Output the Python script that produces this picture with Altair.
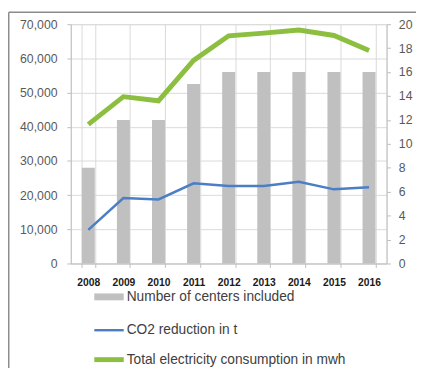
import altair as alt
import pandas as pd

years = ["2008", "2009", "2010", "2011", "2012", "2013", "2014", "2015", "2016"]
centers = [8, 12, 12, 15, 16, 16, 16, 16, 16]
co2 = [9850, 19150, 18750, 23450, 22650, 22650, 23900, 21700, 22300]
elec = [40700, 48800, 47600, 59400, 66600, 67400, 68300, 66700, 62300]
series_names = ["Number of centers included", "CO2 reduction in t",
                "Total electricity consumption in mwh"]
colors = ["#c0c0c0", "#4a7fc6", "#8cbf3f"]
left_ticks = [0, 10000, 20000, 30000, 40000, 50000, 60000, 70000]
right_ticks = [0, 2, 4, 6, 8, 10, 12, 14, 16, 18, 20]

bar_df = pd.DataFrame({"year": years, "value": centers, "series": series_names[0]})
co2_df = pd.DataFrame({"year": years, "value": co2, "series": series_names[1]})
elec_df = pd.DataFrame({"year": years, "value": elec, "series": series_names[2]})

FONT = "Liberation Sans"

xenc = alt.X(
    "year:N", sort=years,
    scale=alt.Scale(paddingInner=0.63, paddingOuter=0.315),
    axis=alt.Axis(title=None, labelAngle=0, labelFontWeight="bold", labelFontSize=10.5,
                  labelColor="#1a1a1a", tickBand="extent", grid=True, gridColor="#d9d9d9",
                  tickSize=4, tickColor="#bfbfbf", domainColor="#bfbfbf", labelPadding=10),
)

color = alt.Color(
    "series:N",
    scale=alt.Scale(domain=series_names, range=colors),
    legend=alt.Legend(
        title=None, orient="none", legendX=32, legendY=271, direction="vertical",
        symbolType="stroke", symbolSize=900,
        symbolStrokeWidth={"expr": "datum.value == 'Number of centers included' ? 7 : (datum.value == 'CO2 reduction in t' ? 2.5 : 5)"},
        symbolStrokeColor={"expr": "scale('color', datum.value)"},
        rowPadding=13, labelOffset=11, labelFontSize=14, labelColor="#404040",
        labelFont=FONT, labelLimit=400,
    ),
)

bars = alt.Chart(bar_df).mark_bar(color="#c0c0c0").encode(
    x=xenc,
    y=alt.Y("value:Q", scale=alt.Scale(domain=[0, 20]),
            axis=alt.Axis(title=None, orient="right", values=right_ticks, grid=False,
                          labelFontSize=12.5, labelColor="#595959", tickSize=4,
                          tickColor="#bfbfbf", domainColor="#bfbfbf", labelPadding=8)),
    color=color,
)

yleft = alt.Y("value:Q", scale=alt.Scale(domain=[0, 70000]),
              axis=alt.Axis(title=None, orient="left", values=left_ticks, format=",.0f",
                            grid=True, gridColor="#d9d9d9", labelFontSize=12.5,
                            labelColor="#595959", tickSize=4, tickColor="#bfbfbf",
                            domainColor="#bfbfbf", labelPadding=10))

co2_line = alt.Chart(co2_df).mark_line(strokeWidth=2.5).encode(x=xenc, y=yleft, color=color)
elec_line = alt.Chart(elec_df).mark_line(strokeWidth=5).encode(x=xenc, y=yleft, color=color)
lines = alt.layer(co2_line, elec_line)

frame_df = pd.DataFrame({"k": [0]})
top_border = alt.Chart(frame_df).mark_rule(color="#8c8c8c", strokeWidth=1.5).encode(
    x=alt.value(-63.25), x2=alt.value(360), y=alt.value(-12.25))
left_border = alt.Chart(frame_df).mark_rule(color="#8c8c8c", strokeWidth=1.5).encode(
    x=alt.value(-63.25), y=alt.value(-12.25), y2=alt.value(360))

chart = alt.layer(bars, lines, top_border, left_border).resolve_scale(
    y="independent"
).properties(
    width=322, height=244,
    autosize=alt.AutoSizeParams(type="none"),
    padding={"left": 64, "top": 13, "right": 30, "bottom": 103},
).configure_view(stroke=None).configure(font=FONT)

chart.save("out.html", embed_options={"renderer": "svg", "actions": False})
